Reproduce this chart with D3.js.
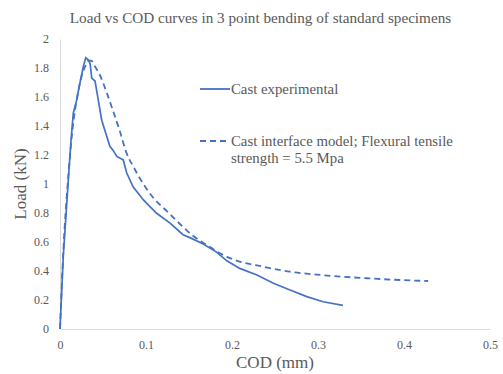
<!DOCTYPE html>
<html>
<head>
<meta charset="utf-8">
<script src="https://cdn.jsdelivr.net/npm/d3@7"></script>
<style>
  body { margin: 0; background: #fff; }
  svg text { font-family: "Liberation Serif", "Times New Roman", serif; fill: #595959; }
</style>
</head>
<body>
<svg id="chart" width="503" height="374"></svg>
<script>
// ---- data (COD in mm, load in kN) ----
const experimentalCOD  = [0, 0.0038, 0.0097, 0.0128, 0.0155, 0.0194, 0.0233, 0.0271, 0.030, 0.033, 0.035, 0.0369, 0.0407, 0.0445, 0.0485, 0.0543, 0.058, 0.062, 0.066, 0.0736, 0.0776, 0.085, 0.097, 0.112, 0.128, 0.143, 0.151, 0.1666, 0.182, 0.194, 0.209, 0.229, 0.2481, 0.2674, 0.287, 0.306, 0.329];
const experimentalLoad = [0, 0.50, 1.03, 1.30, 1.49, 1.58, 1.70, 1.81, 1.87, 1.855, 1.83, 1.73, 1.71, 1.58, 1.44, 1.33, 1.26, 1.23, 1.19, 1.166, 1.076, 0.98, 0.89, 0.80, 0.73, 0.65, 0.63, 0.586, 0.53, 0.47, 0.418, 0.372, 0.315, 0.269, 0.223, 0.188, 0.163];

const modelCOD  = [0, 0.004, 0.01, 0.015, 0.02, 0.025, 0.03, 0.033, 0.0365, 0.0407, 0.0465, 0.0543, 0.062, 0.0698, 0.0776, 0.0853, 0.097, 0.1085, 0.124, 0.1395, 0.155, 0.1706, 0.186, 0.2016, 0.2364, 0.2674, 0.2985, 0.318, 0.357, 0.395, 0.428];
const modelLoad = [0, 0.55, 1.08, 1.40, 1.60, 1.74, 1.82, 1.85, 1.85, 1.81, 1.75, 1.63, 1.50, 1.36, 1.21, 1.12, 1.00, 0.905, 0.814, 0.724, 0.641, 0.58, 0.522, 0.48, 0.43, 0.395, 0.375, 0.365, 0.35, 0.338, 0.331];

const xTicks = [0, 0.1, 0.2, 0.3, 0.4, 0.5];
const yTicks = [0, 0.2, 0.4, 0.6, 0.8, 1, 1.2, 1.4, 1.6, 1.8, 2];

const titleText = 'Load vs COD curves in 3 point bending of standard specimens';
const legendLabels = [['Cast experimental'], ['Cast interface model; Flexural tensile', 'strength = 5.5 Mpa']];

// ---- layout ----
const svg = d3.select('#chart');
const M = { left: 60, right: 13, top: 39, bottom: 45 };
const W = 503, H = 374;
const blue = '#4472c4';

const x = d3.scaleLinear().domain([0, 0.5]).range([M.left, W - M.right]);
const y = d3.scaleLinear().domain([0, 2]).range([H - M.bottom, M.top]);

svg.append('text')
  .attr('x', 260.5).attr('y', 23)
  .attr('text-anchor', 'middle')
  .style('font-size', '15.2px')
  .text(titleText);

// axes: light grey lines, no tick marks
const xAxis = svg.append('g')
  .attr('transform', `translate(0,${y(0)})`)
  .call(d3.axisBottom(x).tickValues(xTicks).tickSize(0).tickPadding(11).tickFormat(d => d));
const yAxis = svg.append('g')
  .attr('transform', `translate(${x(0)},0)`)
  .call(d3.axisLeft(y).tickValues(yTicks).tickSize(0).tickPadding(11).tickFormat(d => d));
[xAxis, yAxis].forEach(g => {
  g.select('.domain').attr('stroke', '#d9d9d9').attr('stroke-width', 1);
  g.selectAll('.tick text')
    .style('font-family', '"Liberation Serif", serif')
    .style('font-size', '12px')
    .attr('fill', '#595959');
});

svg.append('text')
  .attr('x', x(0.25)).attr('y', 368)
  .attr('text-anchor', 'middle')
  .style('font-size', '17px')
  .text('COD (mm)');

svg.append('text')
  .attr('transform', `translate(26,${y(1)}) rotate(-90)`)
  .attr('text-anchor', 'middle')
  .style('font-size', '17px')
  .text('Load (kN)');

// ---- curves ----
const expData = experimentalCOD.map((c, i) => [c, experimentalLoad[i]]);
const modelData = modelCOD.map((c, i) => [c, modelLoad[i]]);

svg.append('path').datum(modelData)
  .attr('fill', 'none').attr('stroke', blue).attr('stroke-width', 1.8)
  .attr('stroke-dasharray', '6,4')
  .attr('d', d3.line().x(d => x(d[0])).y(d => y(d[1])).curve(d3.curveMonotoneX));

svg.append('path').datum(expData)
  .attr('fill', 'none').attr('stroke', blue).attr('stroke-width', 1.7)
  .attr('d', d3.line().x(d => x(d[0])).y(d => y(d[1])));

// ---- legend ----
const legend = svg.append('g');
const legendY = [89, 141];
legendLabels.forEach((lines, i) => {
  legend.append('line')
    .attr('x1', 200).attr('x2', 230)
    .attr('y1', legendY[i]).attr('y2', legendY[i])
    .attr('stroke', blue).attr('stroke-width', 1.8)
    .attr('stroke-dasharray', i === 1 ? '6,4' : null);
  const t = legend.append('text')
    .attr('x', 231).attr('y', legendY[i] + 4.5)
    .style('font-size', '14.8px');
  lines.forEach((s, j) => {
    t.append('tspan').attr('x', 231).attr('dy', j === 0 ? 0 : 17).text(s);
  });
});
</script>
</body>
</html>
